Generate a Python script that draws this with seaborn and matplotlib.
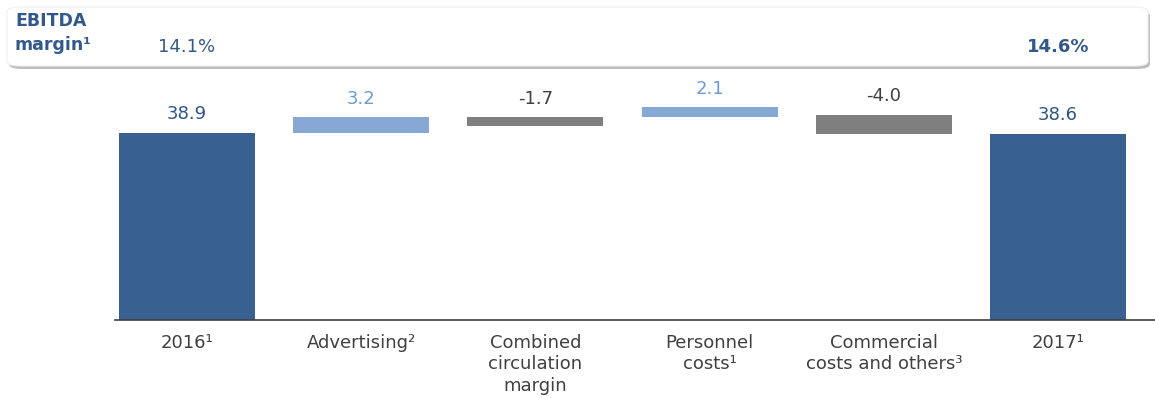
import matplotlib
matplotlib.use("Agg")
import matplotlib.pyplot as plt
import matplotlib.transforms as mtransforms
from matplotlib.patches import FancyBboxPatch
import pandas as pd
import seaborn as sns

# data (EUR m)
categories = ["2016¹", "Advertising²", "Combined\ncirculation\nmargin",
              "Personnel\ncosts¹", "Commercial\ncosts and others³", "2017¹"]
values = [38.9, 3.2, -1.7, 2.1, -4.0, 38.6]
bar_low = [0, 38.9, 40.4, 42.1, 38.6, 0]      # lower edge of each bar
kinds = ["total", "up", "down", "up", "down", "total"]
margin_labels = ["14.1%", "", "", "", "", "14.6%"]

BAR_COLORS = {"total": "#386091", "up": "#87A8D4", "down": "#7F7F7F"}
TEXT_COLORS = {"total": "#2E5583", "up": "#6F9AD3", "down": "#404040"}
HEAD_BLUE = "#33598A"

df = pd.DataFrame({"cat": categories, "low": bar_low, "kind": kinds})
df["top"] = df["low"] + [abs(v) for v in values]

sns.set_theme(style="white")
plt.rcParams["font.family"] = ["DejaVu Sans"]

fig = plt.figure(figsize=(11.55, 3.98), dpi=100)
ax = fig.add_axes([0.0996, 0.196, 0.9004, 0.6156])
ax.set_zorder(2)
ax.patch.set_alpha(0)

# waterfall: full bar up to the top, then blank out the part below the low edge
sns.barplot(data=df, x="cat", y="top", hue="cat",
            palette=[BAR_COLORS[k] for k in kinds], legend=False,
            width=0.78, ax=ax, saturation=1, linewidth=0)
sns.barplot(data=df, x="cat", y="low", color="white", width=0.8,
            ax=ax, saturation=1, linewidth=0)

ax.set_xlim(-0.413, 5.557)
ax.set_ylim(0, 50.9)
ax.set_xlabel("")
ax.set_ylabel("")
ax.set_yticks([])
for s in ["left", "right", "top"]:
    ax.spines[s].set_visible(False)
ax.spines["bottom"].set_color("#404040")
ax.spines["bottom"].set_linewidth(1.2)
ax.spines["bottom"].set_zorder(5)
ax.tick_params(axis="x", length=0, pad=10, labelsize=13, labelcolor="#404040")
for lab in ax.get_xticklabels():
    lab.set_horizontalalignment("center")
    lab.set_verticalalignment("top")
    lab.set_linespacing(1.25)

# value labels
for i, (v, hi, k) in enumerate(zip(values, df["top"], kinds)):
    ax.annotate(f"{v:.1f}", (i, hi), xytext=(0, 7), textcoords="offset points",
                ha="center", va="bottom", fontsize=13, color=TEXT_COLORS[k])

# header box with EBITDA margin
shadow = FancyBboxPatch((9 / 1155, 1 - 69 / 398), 1141 / 1155, 58 / 398,
                        boxstyle="round,pad=0,rounding_size=0.012",
                        transform=fig.transFigure, facecolor="#BDBDBD",
                        edgecolor="none", zorder=0)
box = FancyBboxPatch((7 / 1155, 1 - 66 / 398), 1141 / 1155, 59 / 398,
                     boxstyle="round,pad=0,rounding_size=0.012",
                     transform=fig.transFigure, facecolor="white",
                     edgecolor="#F0F0F0", linewidth=0.8, zorder=1)
fig.patches.extend([shadow, box])

fig.text(15 / 1155, 1 - 33 / 398, "EBITDA\nmargin¹", ha="left", va="center",
         fontsize=12.5, fontweight="bold", color=HEAD_BLUE, linespacing=1.4,
         zorder=3)

trans = mtransforms.blended_transform_factory(ax.transData, fig.transFigure)
for i, m in enumerate(margin_labels):
    if m:
        ax.text(i, 1 - 47 / 398, m, transform=trans, ha="center", va="center",
                fontsize=13, color=HEAD_BLUE, clip_on=False,
                fontweight="bold" if i == len(values) - 1 else "normal")

fig.savefig("out.png", dpi=100)
